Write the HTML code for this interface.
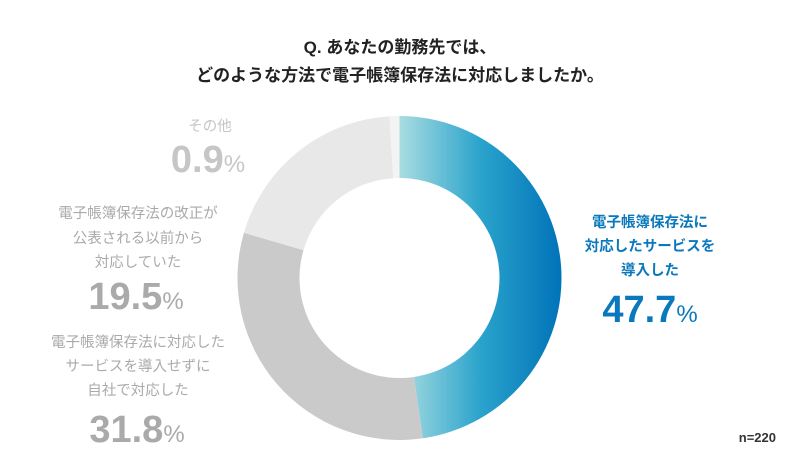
<!DOCTYPE html>
<html><head><meta charset="utf-8"><style>
body{margin:0;width:800px;height:469px;background:#fff;overflow:hidden}
svg text{font-family:"Liberation Sans","Noto Sans CJK JP",sans-serif}
</style></head><body>
<svg width="800" height="469" viewBox="0 0 800 469">
<defs><linearGradient id="g" x1="0" y1="0" x2="162" y2="0" gradientUnits="userSpaceOnUse">
<stop offset="0" stop-color="#a9dde1"/><stop offset="0.5" stop-color="#2aa3cc"/><stop offset="1" stop-color="#0073b8"/></linearGradient></defs>
<g id="d" transform="translate(399.5,278)"></g>
<g font-weight="bold" fill="#222" font-size="17" text-anchor="middle">
<text x="400" y="53">Q. あなたの勤務先では、</text>
<text x="400" y="81">どのような方法で電子帳簿保存法に対応しましたか。</text>
</g>
<g fill="#c6c6c6" text-anchor="middle" font-size="14.5">
<text x="210" y="131">その他</text>
<text x="208" y="172" font-size="38" font-weight="bold">0.9<tspan font-size="24" font-weight="normal">%</tspan></text>
</g>
<g fill="#aaa" text-anchor="middle" font-size="14.5">
<text x="138" y="218">電子帳簿保存法の改正が</text>
<text x="138" y="243">公表される以前から</text>
<text x="138" y="267">対応していた</text>
<text x="138" y="347">電子帳簿保存法に対応した</text>
<text x="138" y="371">サービスを導入せずに</text>
<text x="138" y="395">自社で対応した</text>
<text x="136" y="309" font-size="38" font-weight="bold">19.5<tspan font-size="24" font-weight="normal">%</tspan></text>
<text x="137" y="442" font-size="38" font-weight="bold">31.8<tspan font-size="24" font-weight="normal">%</tspan></text>
</g>
<g fill="#0a78bc" text-anchor="middle" font-size="14.5" font-weight="bold">
<text x="650" y="227">電子帳簿保存法に</text>
<text x="650" y="251">対応したサービスを</text>
<text x="650" y="275">導入した</text>
<text x="650" y="322" font-size="38">47.7<tspan font-size="24" font-weight="normal">%</tspan></text>
</g>
<text x="776" y="442" text-anchor="end" font-size="13" fill="#333" font-weight="bold">n=220</text>
</svg>
<script>
const R=162,r=100,segs=[[47.7,'url(#g)'],[31.8,'#cacaca'],[19.5,'#e8e8e8'],[1.0,'#f3f3f3']];
let a=0,h='';
function pt(rad,deg){const t=(deg-90)*Math.PI/180;return [rad*Math.cos(t),rad*Math.sin(t)];}
for(const [v,c] of segs){const b=a+v*3.6;const l=(b-a)>180?1:0;
const [x1,y1]=pt(R,a),[x2,y2]=pt(R,b),[x3,y3]=pt(r,b),[x4,y4]=pt(r,a);
h+=`<path fill="${c}" d="M${x1} ${y1}A${R} ${R} 0 ${l} 1 ${x2} ${y2}L${x3} ${y3}A${r} ${r} 0 ${l} 0 ${x4} ${y4}Z"/>`;a=b;}
document.getElementById('d').innerHTML=h;
</script>
</body></html>
